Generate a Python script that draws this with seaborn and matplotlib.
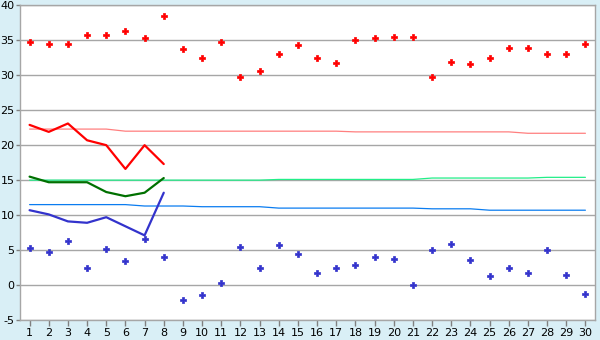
import matplotlib
matplotlib.use("Agg")
import matplotlib.pyplot as plt
import seaborn as sns
import pandas as pd
import numpy as np

days = list(range(1, 31))

max_temp = [34.8, 34.4, 34.4, 35.7, 35.7, 36.3, 35.3, 38.4, 33.7, 32.4,
            34.7, 29.7, 30.6, 33.0, 34.3, 32.4, 31.7, 35.0, 35.3, 35.4,
            35.4, 29.7, 31.9, 31.6, 32.4, 33.9, 33.9, 33.0, 33.0, 34.4]
min_temp = [5.3, 4.7, 6.3, 2.4, 5.1, 3.4, 6.6, 4.0, -2.1, -1.4,
            0.3, 5.4, 2.4, 5.7, 4.4, 1.7, 2.4, 2.9, 4.0, 3.7,
            0.0, 5.0, 5.9, 3.6, 1.3, 2.4, 1.7, 5.0, 1.4, -1.3]

obs_days = [1, 2, 3, 4, 5, 6, 7, 8]
obs_max = [22.9, 21.9, 23.1, 20.7, 20.0, 16.6, 20.0, 17.3]
obs_mean = [15.5, 14.7, 14.7, 14.7, 13.3, 12.7, 13.2, 15.3]
obs_min = [10.7, 10.1, 9.1, 8.9, 9.7, 8.4, 7.1, 13.2]

norm_max = [22.3] * 5 + [22.0] * 12 + [21.9] * 9 + [21.7] * 4
norm_mean = [15.0] * 13 + [15.1] * 8 + [15.3] * 6 + [15.4] * 3
norm_min = [11.5] * 6 + [11.3] * 3 + [11.2] * 4 + [11.0] * 8 + [10.9] * 3 + [10.7] * 6

y_ticks = [-5, 0, 5, 10, 15, 20, 25, 30, 35, 40]

sns.set_style("white")
plt.rcParams['font.family'] = ['DejaVu Sans']

fig = plt.figure(figsize=(6, 3.4), dpi=100, facecolor="#d9eff6")
ax = fig.add_axes([20 / 600, 1 - 320 / 340, 575 / 600, (320 - 5.3) / 340])
ax.set_facecolor("white")

ax.set_xlim(0.5, 30.5)
ax.set_ylim(-5, 40)
for v in y_ticks:
    ax.axhline(v, color="#a6a6a6", lw=1.0, zorder=0)

df_norm = pd.DataFrame({"day": days, "nmax": norm_max, "nmean": norm_mean, "nmin": norm_min})
sns.lineplot(data=df_norm, x="day", y="nmax", ax=ax, color="#ff7f7f", lw=0.9)
sns.lineplot(data=df_norm, x="day", y="nmean", ax=ax, color="#22ee88", lw=0.9)
sns.lineplot(data=df_norm, x="day", y="nmin", ax=ax, color="#0a7cf0", lw=0.9)

df_obs = pd.DataFrame({"day": obs_days, "omax": obs_max, "omean": obs_mean, "omin": obs_min})
sns.lineplot(data=df_obs, x="day", y="omax", ax=ax, color="#ff0000", lw=1.6)
sns.lineplot(data=df_obs, x="day", y="omean", ax=ax, color="#007000", lw=1.6)
sns.lineplot(data=df_obs, x="day", y="omin", ax=ax, color="#3333cc", lw=1.6)

df_pts = pd.DataFrame({"day": days, "tmax": max_temp, "tmin": min_temp})
sns.scatterplot(data=df_pts, x="day", y="tmax", ax=ax, color="#ff0000", marker="P",
                s=15, linewidth=0.5, edgecolor="#ff0000", zorder=5)
sns.scatterplot(data=df_pts, x="day", y="tmin", ax=ax, color="#3333cc", marker="P",
                s=15, linewidth=0.5, edgecolor="#3333cc", zorder=5)

ax.set_xticks(days)
ax.set_xticklabels([str(d) for d in days])
ax.set_yticks(y_ticks)
ax.set_yticklabels([str(v) for v in y_ticks])
ax.set_xlabel("")
ax.set_ylabel("")
ax.tick_params(axis="both", labelsize=8, colors="#808080", labelcolor="black",
               width=1, direction="out")
ax.tick_params(axis="x", bottom=True, length=4, pad=2)
ax.tick_params(axis="y", left=True, length=3, pad=1)
for side in ["left", "right", "bottom", "top"]:
    ax.spines[side].set_color("#a6a6a6")
    ax.spines[side].set_linewidth(1.0)
    ax.spines[side].set_visible(True)

fig.savefig("out.png", dpi=100, facecolor=fig.get_facecolor())
